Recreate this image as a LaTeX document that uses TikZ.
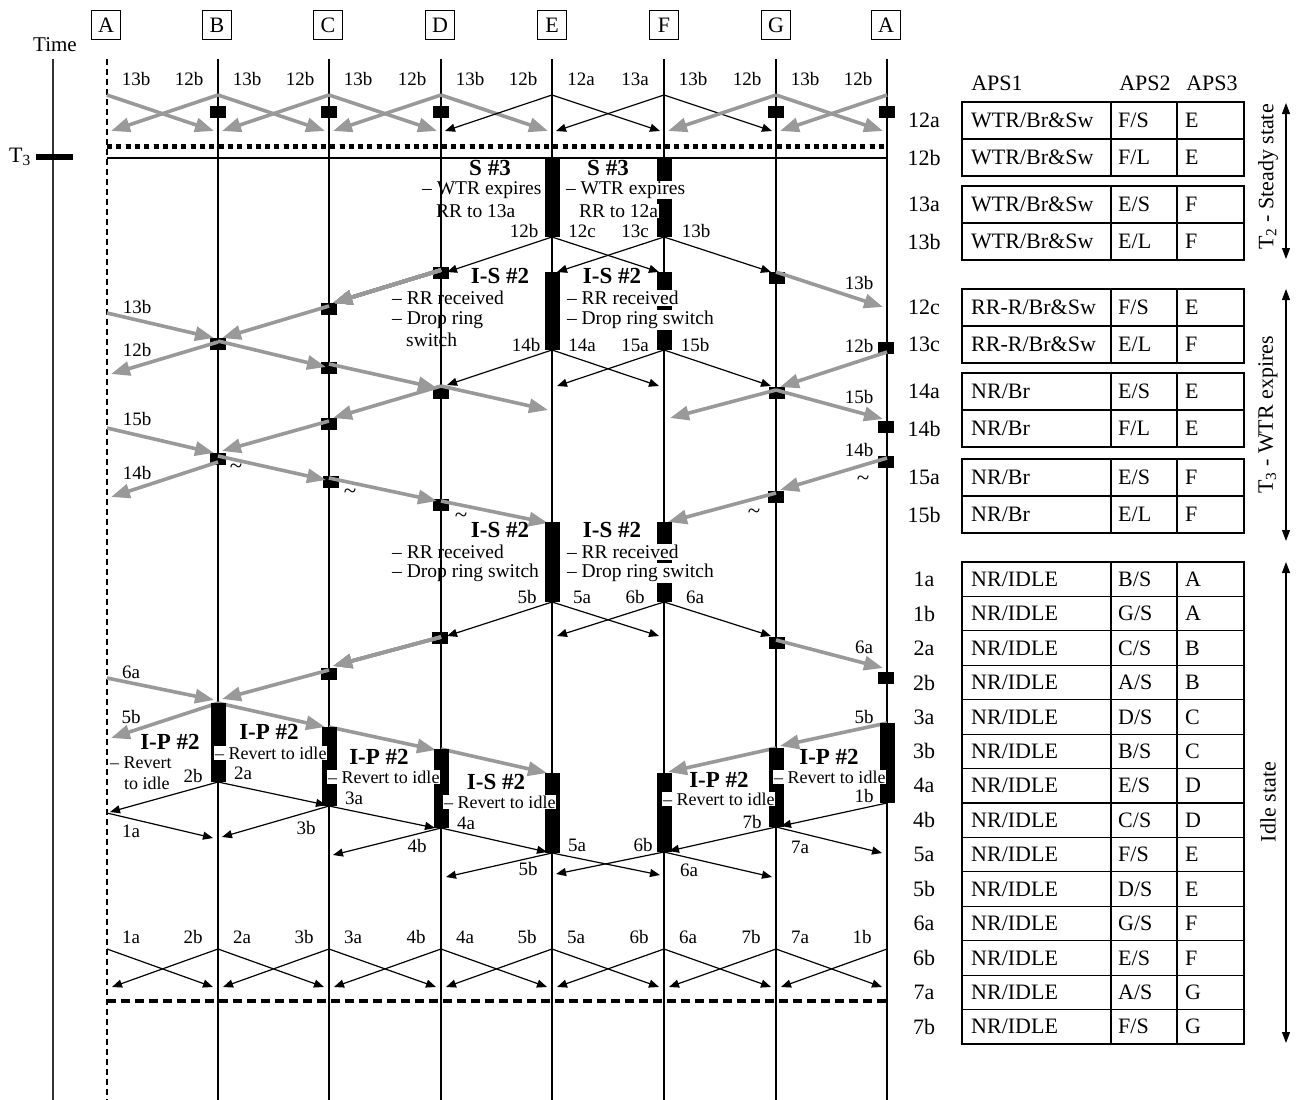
\documentclass[tikz,border=0pt]{standalone}
\usepackage{fontspec}
\setmainfont{Liberation Serif}
\usetikzlibrary{arrows.meta}
\newcommand\vbarx[3]{\fill (#1-7.5,#2) rectangle (#1+7.5,#3);}
\newcommand\sqbox[2]{\fill (#1-8,#2-6) rectangle (#1+8,#2+6);}
\begin{document}
\begin{tikzpicture}[x=1pt,y=-1pt,
  colline/.style={line width=1.3pt},
  garrow/.style={draw=black!40, line width=3.6pt, -{Triangle[length=19pt,width=14pt]}},
  barrow/.style={draw=black, line width=1.2pt, -{Triangle[length=10pt,width=8pt]}},
  lbl/.style={inner sep=0pt, font=\fontsize{19}{22}\selectfont},
  ttl/.style={inner sep=0pt, font=\fontsize{23}{26}\selectfont\bfseries},
  txt/.style={inner sep=0pt, anchor=west, font=\fontsize{19.5}{22}\selectfont},
  wtxt/.style={inner sep=0.8pt, anchor=west, fill=white, font=\fontsize{19.5}{22}\selectfont},
  rtxt/.style={inner sep=0.8pt, anchor=west, fill=white, font=\fontsize{18}{20}\selectfont},
  rtxtn/.style={inner sep=0pt, anchor=west, font=\fontsize{18}{20}\selectfont},
  hdr/.style={draw, line width=1pt, minimum size=29pt, inner sep=0pt, font=\fontsize{22}{24}\selectfont},
  cell/.style={anchor=west, inner sep=0pt, font=\fontsize{22}{24}\selectfont},
  tab/.style={line width=1.2pt},
  big/.style={inner sep=0pt, font=\fontsize{22}{24}\selectfont},
  varrow/.style={line width=1.2pt, {Triangle[length=11pt,width=8pt]}-{Triangle[length=11pt,width=8pt]}}
]
\useasboundingbox (0,0) rectangle (1307,1100);

% ---------- time axis ----------
\node[big, font=\fontsize{21}{24}\selectfont] (time) at (55,45) {Time};
\draw[line width=1.6pt, black!80] (53,59) -- (53,1100);
\draw[line width=6pt] (36,157) -- (73,157);
\node[big, anchor=east] (t3) at (31,157) {T\textsubscript{3}};

% ---------- column headers and lines ----------
\foreach \x/\n/\k in {106/A/a0,217/B/b,328/C/c,440/D/d,552/E/e,664/F/f,776/G/g,886/A/a1}
  \node[hdr] (h\k) at (\x,25) {\n};
\foreach \x in {218,329,441,552,664,776,887} \draw[colline] (\x,59) -- (\x,1100);
\draw[line width=1.2pt, dash pattern=on 6pt off 4pt] (107,59) -- (107,1100);

% ---------- top steady state ----------
\foreach \L/\R/\la/\lb/\sa/\sb in {107/218/13b/12b/garrow/garrow,218/329/13b/12b/garrow/garrow,329/441/13b/12b/garrow/garrow,441/552/13b/12b/garrow/barrow,552/664/12a/13a/barrow/barrow,664/776/13b/12b/barrow/garrow,776/887/13b/12b/garrow/garrow}{
  \node[lbl] (ta\L) at (\L+29,79) {\la};
  \node[lbl] (tb\L) at (\R-29,79) {\lb};
  \draw[\sa] (\L,95) -- (\R-4,131);
  \draw[\sb] (\R,95) -- (\L+4,131);
}
\foreach \x in {218,329,441,776,887} \sqbox{\x}{112}
\draw[line width=5pt, dash pattern=on 5pt off 4.3pt] (107,146) -- (887,146);
\draw[line width=1.3pt] (107,158) -- (887,158);

% ---------- S #3 ----------
\vbarx{552}{158}{237}
\vbarx{664}{158}{237}
\node[ttl] (s3l) at (490,168) {S \#3};
\node[ttl] (s3r) at (608,168) {S \#3};
\node[txt] (s3l1) at (422,190) {– WTR expires};
\node[txt] (s3l2) at (436,211) {RR to 13a};
\node[wtxt] (s3r1) at (565,190) {– WTR expires};
\node[wtxt] (s3r2) at (578,211) {RR to 12a};
\node[lbl] (l12b) at (524,231) {12b};
\node[lbl] (l12c) at (582,231) {12c};
\node[lbl] (l13c) at (635,231) {13c};
\node[lbl] (l13b) at (696,231) {13b};
\draw[barrow] (552,237) -- (447,272);
\draw[barrow] (552,237) -- (659,272);
\draw[barrow] (664,237) -- (557,272);
\draw[barrow] (664,237) -- (771,272);

% ---------- I-S #2 (first) ----------
\vbarx{552}{272}{350}
\vbarx{664}{272}{350}
\foreach \x/\y in {441/273,777/278,329/309,218/344,329/368,441/393,329/424,218/459,331/482,441/505,886/348,777/393,886/427,886/462,776/497}
  \sqbox{\x}{\y}
\draw[garrow] (441,270) -- (333,303);
\draw[garrow] (329,306) -- (222,338);
\draw[garrow] (218,342) -- (111,374);
\draw[garrow] (107,313) -- (214,338);
\draw[garrow] (218,341) -- (326,367);
\draw[garrow] (329,364) -- (437,388);
\draw[garrow] (441,386) -- (548,410);
\draw[garrow] (441,386) -- (333,418);
\draw[garrow] (329,421) -- (222,451);
\draw[garrow] (218,462) -- (111,497);
\draw[garrow] (107,428) -- (214,453);
\draw[garrow] (218,456) -- (326,480);
\draw[garrow] (329,478) -- (437,501);
\draw[garrow] (441,501) -- (548,523);
\draw[garrow] (776,272) -- (883,307);
\draw[garrow] (887,352) -- (780,387);
\draw[garrow] (776,390) -- (670,418);
\draw[garrow] (776,390) -- (883,419);
\draw[garrow] (887,458) -- (780,490);
\draw[garrow] (776,493) -- (668,522);
\node[lbl] (g13bl) at (137,307) {13b};
\node[lbl] (g12bl) at (137,350) {12b};
\node[lbl] (g15bl) at (137,419) {15b};
\node[lbl] (g14bl) at (137,473) {14b};
\node[lbl] (g13br) at (859,283) {13b};
\node[lbl] (g12br) at (859,346) {12b};
\node[lbl] (g15br) at (859,397) {15b};
\node[lbl] (g14br) at (859,450) {14b};
\node[ttl] (is1l) at (500,276) {I-S \#2};
\node[ttl] (is1r) at (612,276) {I-S \#2};
\node[txt] (is1l1) at (392,298) {– RR received};
\node[txt] (is1l2) at (392,320) {– Drop ring};
\node[txt] (is1l3) at (406,340) {switch};
\node[wtxt] (is1r1) at (566,298) {– RR received};
\node[wtxt] (is1r2) at (566,320) {– Drop ring switch};
\node[lbl] (l14b) at (526,345) {14b};
\node[lbl] (l14a) at (582,345) {14a};
\node[lbl] (l15a) at (635,345) {15a};
\node[lbl] (l15b) at (695,345) {15b};
\draw[barrow] (552,350) -- (447,385);
\draw[barrow] (552,350) -- (659,386);
\draw[barrow] (664,350) -- (557,386);
\draw[barrow] (664,350) -- (771,386);
\foreach \x/\y/\k in {236/469/1,350/494/2,461/518/3,754/514/4,863/481/5}
  \node[lbl, font=\fontsize{23}{24}\selectfont] (tl\k) at (\x,\y) {\textasciitilde};

% ---------- I-S #2 (second) ----------
\vbarx{552}{522}{602}
\vbarx{664}{522}{602}
\node[ttl] (is2l) at (500,530) {I-S \#2};
\node[ttl] (is2r) at (612,530) {I-S \#2};
\node[txt] (is2l1) at (392,552) {– RR received};
\node[txt] (is2l2) at (392,573) {– Drop ring switch};
\node[wtxt] (is2r1) at (566,552) {– RR received};
\node[wtxt] (is2r2) at (566,573) {– Drop ring switch};
\node[lbl] (l5b) at (527,597) {5b};
\node[lbl] (l5a) at (582,597) {5a};
\node[lbl] (l6b) at (635,597) {6b};
\node[lbl] (l6a) at (695,597) {6a};
\draw[barrow] (552,602) -- (447,636);
\draw[barrow] (552,602) -- (659,636);
\draw[barrow] (664,602) -- (557,636);
\draw[barrow] (664,602) -- (771,636);
\foreach \x/\y in {440/638,777/643,329/674,886/678} \sqbox{\x}{\y}
\draw[garrow] (441,637) -- (333,666);
\draw[garrow] (329,670) -- (222,699);
\draw[garrow] (218,703) -- (111,738);
\draw[garrow] (107,678) -- (214,700);
\draw[garrow] (218,703) -- (325,727);
\draw[garrow] (329,727) -- (436,750);
\draw[garrow] (441,749) -- (547,773);
\draw[garrow] (776,640) -- (883,668);
\draw[garrow] (887,723) -- (780,746);
\draw[garrow] (776,748) -- (668,772);
\node[lbl] (g6al) at (131,672) {6a};
\node[lbl] (g5bl) at (131,717) {5b};
\node[lbl] (g6ar) at (864,647) {6a};
\node[lbl] (g5br) at (864,717) {5b};

% ---------- I-P #2 ----------
\vbarx{218}{703}{782}
\vbarx{329}{727}{806}
\vbarx{441}{749}{828}
\vbarx{552}{773}{853}
\vbarx{664}{773}{852}
\vbarx{776}{748}{827}
\vbarx{887}{723}{803}
\draw[barrow] (218,782) -- (110,812);
\draw[barrow] (218,782) -- (326,805);
\draw[barrow] (107,813) -- (213,838);
\draw[barrow] (329,806) -- (222,837);
\draw[barrow] (329,806) -- (435,828);
\draw[barrow] (441,828) -- (333,855);
\draw[barrow] (441,828) -- (547,852);
\draw[barrow] (552,853) -- (446,877);
\draw[barrow] (552,853) -- (660,875);
\draw[barrow] (664,852) -- (556,874);
\draw[barrow] (664,852) -- (772,877);
\draw[barrow] (776,827) -- (669,851);
\draw[barrow] (776,827) -- (882,853);
\draw[barrow] (887,803) -- (781,826);
\node[ttl] (ip1) at (170,742) {I-P \#2};
\node[rtxtn] (ip1a) at (110,763) {– Revert};
\node[rtxtn] (ip1b) at (124,783) {to idle};
\node[ttl] (ip2) at (269,732) {I-P \#2};
\node[rtxt] (ip2a) at (214,753) {– Revert to idle};
\node[ttl] (ip3) at (379,757) {I-P \#2};
\node[rtxt] (ip3a) at (327,777) {– Revert to idle};
\node[ttl] (ip4) at (496,782) {I-S \#2};
\node[rtxt] (ip4a) at (443,802) {– Revert to idle};
\node[ttl] (ip5) at (719,780) {I-P \#2};
\node[rtxt] (ip5a) at (662,799) {– Revert to idle};
\node[ttl] (ip6) at (829,757) {I-P \#2};
\node[rtxt] (ip6a) at (773,777) {– Revert to idle};
\foreach \t/\x/\y in {2b/193/776,2a/243/773,3a/354/798,4a/466/823,5a/577/845,6b/643/845,7b/752/822,6a/689/870,1b/864/796,7a/800/847,1a/131/831,3b/306/828,4b/417/846,5b/528/869}
  \node[lbl] (p\t) at (\x,\y) {\t};

% ---------- idle ----------
\foreach \L/\R/\la/\lb in {107/218/1a/2b,218/329/2a/3b,329/441/3a/4b,441/552/4a/5b,552/664/5a/6b,664/776/6a/7b,776/887/7a/1b}{
  \draw[barrow] (\L,949) -- (\R-5,987);
  \draw[barrow] (\R,949) -- (\L+5,987);
  \node[lbl] (ia\L) at (\L+24,937) {\la};
  \node[lbl] (ib\L) at (\R-25,937) {\lb};
}
\draw[line width=4.5pt, dash pattern=on 9pt off 5pt] (107,1001) -- (887,1001);

% ---------- table ----------
\node[big] (aps1) at (997,83) {APS1};
\node[big] (aps2) at (1145,83) {APS2};
\node[big] (aps3) at (1212,83) {APS3};
\foreach \ya/\yb/\yc in {102/139/176,186/223/260,289/326/363,373/410/447,459/496/533}{
  \draw[tab] (962,\ya) rectangle (1244,\yc);
  \draw[tab] (962,\yb) -- (1244,\yb);
  \draw[tab] (1111,\ya) -- (1111,\yc);
  \draw[tab] (1177,\ya) -- (1177,\yc);
}
\foreach \y/\r/\a/\b/\c in {120.5/12a/{WTR/Br\&Sw}/{F/S}/E,157.5/12b/{WTR/Br\&Sw}/{F/L}/E,204.5/13a/{WTR/Br\&Sw}/{E/S}/F,241.5/13b/{WTR/Br\&Sw}/{E/L}/F,307.5/12c/{RR-R/Br\&Sw}/{F/S}/E,344.5/13c/{RR-R/Br\&Sw}/{E/L}/F,391.5/14a/{NR/Br}/{E/S}/E,428.5/14b/{NR/Br}/{F/L}/E,477.5/15a/{NR/Br}/{E/S}/F,514.5/15b/{NR/Br}/{E/L}/F}{
  \node[big] (r\r) at (924,\y) {\r};
  \node[cell] (c1\r) at (971,\y) {\a};
  \node[cell] (c2\r) at (1118,\y) {\b};
  \node[cell] (c3\r) at (1185,\y) {\c};
}
\draw[tab] (962,562) rectangle (1244,1044);
\draw[tab] (1111,562) -- (1111,1044);
\draw[tab] (1177,562) -- (1177,1044);
\foreach \i in {1,...,13} \draw[tab] (962,562+34.43*\i) -- (1244,562+34.43*\i);
\foreach \r/\b/\c [count=\i from 0] in {1a/B/A,1b/G/A,2a/C/B,2b/A/B,3a/D/C,3b/B/C,4a/E/D,4b/C/D,5a/F/E,5b/D/E,6a/G/F,6b/E/F,7a/A/G,7b/F/G}{
  \node[big] (r\r) at (924,579.2+34.43*\i) {\r};
  \node[cell] (c1\r) at (971,579.2+34.43*\i) {NR/IDLE};
  \node[cell] (c2\r) at (1118,579.2+34.43*\i) {\b/S};
  \node[cell] (c3\r) at (1185,579.2+34.43*\i) {\c};
}
\draw[varrow] (1286,103) -- (1286,259);
\node[big, rotate=90] (st) at (1268,177) {T\textsubscript{2} - Steady state};
\draw[varrow] (1286,289) -- (1286,541);
\node[big, rotate=90] (wtr) at (1268,415) {T\textsubscript{3} - WTR expires};
\draw[varrow] (1286,562) -- (1286,1043);
\node[big, rotate=90] (idle) at (1268,802) {Idle state};
\end{tikzpicture}
\end{document}
